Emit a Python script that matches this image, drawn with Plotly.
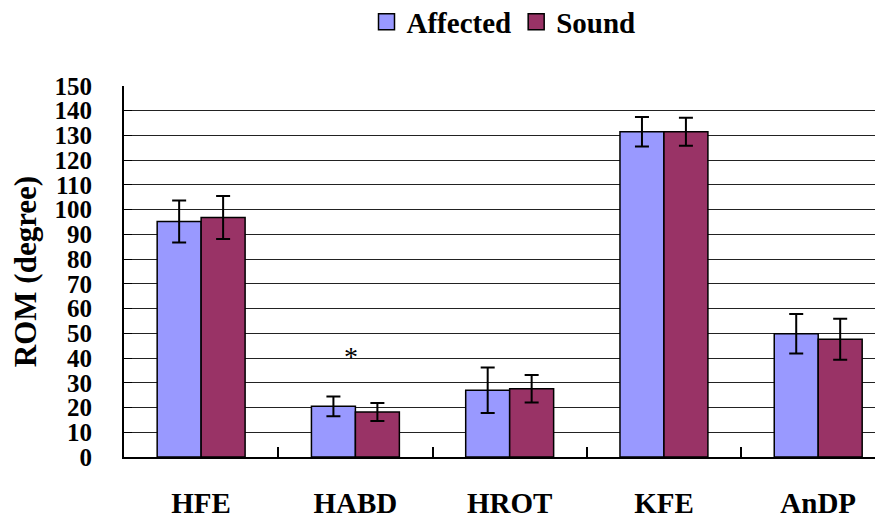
import plotly.graph_objects as go

categories = ["HFE", "HABD", "HROT", "KFE", "AnDP"]
affected = [95.2, 20.5, 27.0, 131.5, 49.8]
affected_err = [8.5, 4.0, 9.2, 6.0, 8.0]
sound = [96.8, 18.2, 27.6, 131.5, 47.6]
sound_err = [8.7, 3.6, 5.6, 5.7, 8.3]
y_ticks = list(range(0, 151, 10))

FONT = "Liberation Serif"
C_AFF = "#9999FF"
C_SND = "#993366"

fig = go.Figure()
fig.add_trace(go.Bar(
    name="Affected", x=categories, y=affected, showlegend=False,
    marker=dict(color=C_AFF, line=dict(color="black", width=1.5)),
    error_y=dict(type="data", array=affected_err, color="black", thickness=2, width=7),
))
fig.add_trace(go.Bar(
    name="Sound", x=categories, y=sound, showlegend=False,
    marker=dict(color=C_SND, line=dict(color="black", width=1.5)),
    error_y=dict(type="data", array=sound_err, color="black", thickness=2, width=7),
))
# legend entries with larger square symbols
for name, col in [("Affected", C_AFF), ("Sound", C_SND)]:
    fig.add_trace(go.Scatter(
        name=name, x=[None], y=[None], mode="markers",
        marker=dict(symbol="square", size=18, color=col, line=dict(color="black", width=1.5)),
    ))

fig.add_annotation(x=1, y=41.6, xref="x", yref="y", text="*", showarrow=False,
                   xshift=-4, yshift=-2, font=dict(family=FONT, size=28, color="#000000"))

fig.update_layout(
    width=875, height=513,
    margin=dict(l=116, r=0, t=78, b=64),
    paper_bgcolor="white", plot_bgcolor="white",
    barmode="group", bargap=0.43, bargroupgap=0,
    font=dict(family=FONT, color="black"),
    showlegend=True,
    legend=dict(orientation="h", x=0.5, xanchor="center", y=0.973, yanchor="middle",
                yref="container", font=dict(family=FONT, size=29, weight="bold"),
                itemwidth=30, traceorder="normal", itemsizing="trace"),
    xaxis=dict(range=[-0.5, 4.42], tickson="boundaries", ticks="inside", ticklen=10,
               tickcolor="black", tickwidth=2, showline=True, linecolor="black", linewidth=2,
               showgrid=False, ticklabelstandoff=19, automargin=False,
               tickfont=dict(family=FONT, size=29, weight="bold")),
    yaxis=dict(range=[0, 150], tickvals=y_ticks, ticks="inside", ticklen=8, tickcolor="black",
               showline=True, linecolor="black", linewidth=2,
               showgrid=True, gridcolor="#222222", gridwidth=1,
               ticklabelstandoff=25, zeroline=False, automargin=False,
               tickfont=dict(family=FONT, size=25, weight="bold"),
               title=dict(text="ROM (degree)", standoff=14,
                          font=dict(family=FONT, size=31, weight="bold"))),
)

fig.write_html("out.html")
